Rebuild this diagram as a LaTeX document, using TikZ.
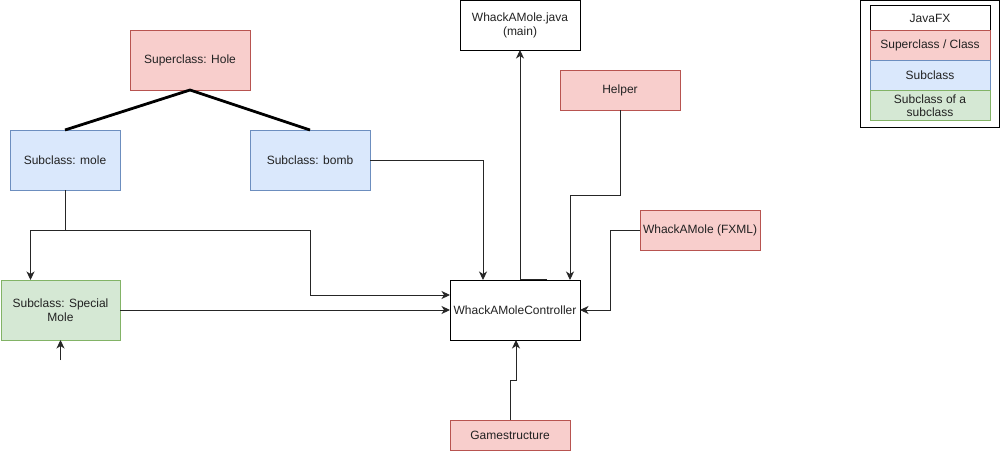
\documentclass[tikz,border=0pt]{standalone}
\usepackage{fontspec}
\setmainfont{Liberation Sans}
\usetikzlibrary{arrows.meta,calc}
\definecolor{redf}{HTML}{F8CECC}\definecolor{redd}{HTML}{B85450}
\definecolor{bluef}{HTML}{DAE8FC}\definecolor{blued}{HTML}{6C8EBF}
\definecolor{greenf}{HTML}{D5E8D4}\definecolor{greend}{HTML}{82B366}
\definecolor{txt}{HTML}{222222}
\begin{document}
\begin{tikzpicture}[x=1pt,y=-1pt,
  box/.style={draw,rectangle,inner sep=1pt,outer sep=0pt,align=center,text=txt,font=\fontsize{12}{14}\selectfont,line width=0.8pt},
  redbox/.style={box,fill=redf,draw=redd},
  bluebox/.style={box,fill=bluef,draw=blued},
  greenbox/.style={box,fill=greenf,draw=greend},
  whitebox/.style={box,fill=white,draw=black},
  wh/.style 2 args={minimum width=#1pt,minimum height=#2pt},
  arr/.style={draw=black!85,line width=0.9pt,-{Stealth[length=8.5pt,width=8pt,inset=2.5pt]}},
  ln/.style={draw=black!85,line width=0.9pt},
  thick3/.style={draw=black,line width=2.8pt}]
\useasboundingbox (0,0) rectangle (1003,452);
\fill[white] (0,0) rectangle (1003,452);
% nodes
\node[redbox,wh={120}{60}] (hole) at (190,60) {Superclass: Hole};
\node[bluebox,wh={110}{60}] (mole) at (65,160) {Subclass: mole};
\node[bluebox,wh={120}{60}] (bomb) at (310,160) {Subclass: bomb};
\node[greenbox,wh={119}{60}] (special) at (60.5,310) {Subclass: Special\\Mole};
\node[whitebox,wh={120}{50}] (main) at (520,25) {WhackAMole.java\\(main)};
\node[redbox,wh={120}{40}] (helper) at (620,90) {Helper};
\node[redbox,wh={120}{40}] (fxml) at (700,230) {WhackAMole (FXML)};
\node[whitebox,wh={130}{60}] (ctrl) at (515,310) {WhackAMoleController};
\node[redbox,wh={120}{30}] (game) at (510,435) {Gamestructure};
% legend
\node[whitebox,wh={139}{127}] (legend) at (930,64) {};
\node[whitebox,wh={120}{25}] (l1) at (930,18) {JavaFX};
\node[redbox,wh={120}{30}] (l2) at (930,45.5) {Superclass / Class};
\node[bluebox,wh={120}{30}] (l3) at (930,75.5) {Subclass};
\node[greenbox,wh={120}{30},font=\fontsize{12}{13}\selectfont] (l4) at (930,105.5) {Subclass of a\\subclass};
% inheritance lines
\draw[thick3] (mole.north) -- (hole.south) -- (bomb.north);
% connectors
\coordinate (j1) at (65,230);
\coordinate (j2) at (310,230);
\coordinate (sm) at (60.5,360);
\draw[ln] (mole.south) -- (j1);
\draw[arr] (j1) -| ($(special.north)+(-30,0)$);
\draw[arr] (j1) -- (j2) |- ($(ctrl.west)+(0,-15)$);
\draw[arr] (special.east) -- (ctrl.west);
\draw[arr] (sm) -- (special.south);
\draw[arr] (bomb.east) -| ($(ctrl.north)+(-32,0)$);
\draw[ln] ($(ctrl.north)+(32,-1)$) -- ($(ctrl.north)+(5,-1)$);
\draw[arr] ($(ctrl.north)+(5,0)$) -- (main.south);
\draw[arr] (helper.south) -- ++(0,85) -| ($(ctrl.north)+(55,0)$);
\draw[arr] (fxml.west) -- ++(-30,0) |- (ctrl.east);
\draw[arr] (game.north) -- ++(0,-40) -| ($(ctrl.south)+(1,0)$);
\end{tikzpicture}
\end{document}
